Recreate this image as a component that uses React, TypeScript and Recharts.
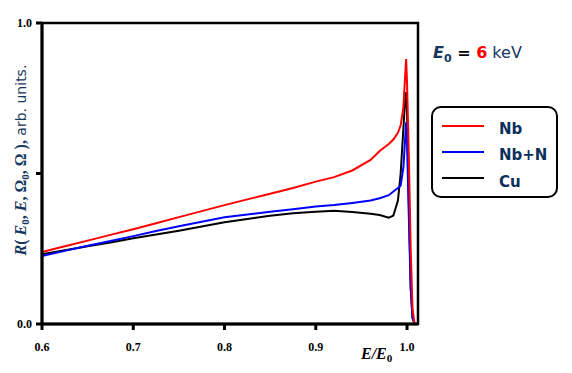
import { LineChart, Line, XAxis, YAxis, ReferenceArea } from "recharts";

const energyRatio = [
  0.6, 0.625, 0.65, 0.675, 0.7, 0.725, 0.75, 0.775, 0.8, 0.825, 0.85, 0.875,
  0.9, 0.92, 0.94, 0.96, 0.97, 0.98, 0.985, 0.99, 0.993, 0.996, 0.998, 0.999,
  1.0, 1.002, 1.004, 1.006, 1.008, 1.01,
];
const nb = [
  0.239, 0.258, 0.277, 0.296, 0.315, 0.335, 0.355, 0.375, 0.395, 0.414, 0.433,
  0.452, 0.473, 0.488, 0.51, 0.545, 0.575, 0.598, 0.613, 0.635, 0.66, 0.72, 0.83,
  0.88, 0.8, 0.55, 0.25, 0.05, 0.005, 0,
];
const nbN = [
  0.226, 0.243, 0.26, 0.276, 0.292, 0.309, 0.325, 0.34, 0.355, 0.364, 0.373,
  0.381, 0.39, 0.395, 0.402, 0.41, 0.418, 0.428, 0.44, 0.452, 0.46, 0.52, 0.62,
  0.67, 0.6, 0.35, 0.12, 0.02, 0.003, 0,
];
const cu = [
  0.232, 0.245, 0.258, 0.271, 0.285, 0.297, 0.31, 0.324, 0.338, 0.349, 0.36,
  0.368, 0.373, 0.376, 0.372, 0.366, 0.362, 0.353, 0.36, 0.41, 0.5, 0.65, 0.75,
  0.77, 0.7, 0.4, 0.12, 0.02, 0.003, 0,
];
const xTicks = [0.6, 0.7, 0.8, 0.9, 1.0];
const yTicks = [0, 0.5, 1];

const data = energyRatio.map((x, i) => ({ x, nb: nb[i], nbN: nbN[i], cu: cu[i] }));

const navy = "#17375e";
const tickStyle = {
  fontFamily: "Liberation Serif",
  fontWeight: 700,
  fontSize: 12,
  fill: "#000",
};

export default function App() {
  return (
    <div style={{ position: "absolute", left: 0, top: 0, width: 572, height: 373, background: "#fff" }}>
      <LineChart
        width={572}
        height={373}
        data={data}
        margin={{ top: 23, right: 154, bottom: 19, left: 12 }}
      >
        <XAxis
          dataKey="x"
          type="number"
          domain={[0.6, 1.012]}
          ticks={xTicks}
          tickFormatter={(v: number) => v.toFixed(1)}
          tick={tickStyle}
          tickSize={6}
          tickMargin={12}
          height={30}
          axisLine={{ stroke: "#000", strokeWidth: 3 }}
          tickLine={{ stroke: "#000", strokeWidth: 3 }}
        />
        <YAxis
          type="number"
          domain={[0, 1]}
          ticks={yTicks}
          tickFormatter={(v: number) => (v === 0.5 ? "" : v.toFixed(1))}
          tick={tickStyle}
          tickSize={6}
          tickMargin={4}
          width={30}
          axisLine={{ stroke: "#000", strokeWidth: 3 }}
          tickLine={{ stroke: "#000", strokeWidth: 3 }}
        />
        <ReferenceArea
          x1={0.6}
          x2={1.012}
          y1={0}
          y2={1}
          fill="none"
          stroke="#000"
          strokeWidth={2.5}
          ifOverflow="visible"
        />
        <Line dataKey="cu" stroke="#000" strokeWidth={2} dot={false} type="linear" isAnimationActive={false} />
        <Line dataKey="nbN" stroke="#0000ff" strokeWidth={2} dot={false} type="linear" isAnimationActive={false} />
        <Line dataKey="nb" stroke="#ff0000" strokeWidth={2} dot={false} type="linear" isAnimationActive={false} />
      </LineChart>

      <svg width={572} height={373} style={{ position: "absolute", left: 0, top: 0, pointerEvents: "none" }}>
        <text
          transform="translate(26,160) rotate(-90)"
          textAnchor="middle"
          fill={navy}
          fontSize={16}
        >
          <tspan fontFamily="Liberation Serif" fontWeight={700} fontStyle="italic">R</tspan>
          <tspan fontFamily="Liberation Serif" fontWeight={700}>( </tspan>
          <tspan fontFamily="Liberation Serif" fontWeight={700} fontStyle="italic">E</tspan>
          <tspan fontFamily="Liberation Serif" fontWeight={700} fontSize={11} dy={3}>0</tspan>
          <tspan fontFamily="Liberation Serif" fontWeight={700} dy={-3}>, </tspan>
          <tspan fontFamily="Liberation Serif" fontWeight={700} fontStyle="italic">E</tspan>
          <tspan fontFamily="Liberation Serif" fontWeight={700}>, Ω</tspan>
          <tspan fontFamily="Liberation Serif" fontWeight={700} fontSize={11} dy={3}>0</tspan>
          <tspan fontFamily="Liberation Serif" fontWeight={700} dy={-3}>, Ω ),</tspan>
          <tspan fontFamily="DejaVu Sans" fontSize={14}>{"  arb. units."}</tspan>
        </text>

        <text x={361} y={359} fontFamily="Liberation Serif" fontWeight={700} fontStyle="italic" fontSize={16} fill="#000">
          E/E<tspan fontSize={11} dy={3} fontStyle="normal">0</tspan>
        </text>

        <text x={433} y={58} fontFamily="DejaVu Sans" fontSize={16}>
          <tspan fontWeight={700} fontStyle="italic" fill={navy}>E</tspan>
          <tspan fontWeight={700} fill={navy} fontSize={11} dy={4}>0</tspan>
          <tspan fontWeight={700} fill="#000" dy={-4}>{" = "}</tspan>
          <tspan fontWeight={700} fill="#ff0000">{" 6"}</tspan>
          <tspan fill={navy}>{" keV"}</tspan>
        </text>

        <rect x={432} y={107} width={125} height={90} rx={9} ry={9} fill="#fff" stroke="#000" strokeWidth={2} />
        <line x1={442} x2={484} y1={126} y2={126} stroke="#ff0000" strokeWidth={2} />
        <line x1={442} x2={484} y1={152} y2={152} stroke="#0000ff" strokeWidth={2} />
        <line x1={442} x2={484} y1={178} y2={178} stroke="#000" strokeWidth={2} />
        <g fontFamily="DejaVu Sans" fontWeight={700} fontSize={15} fill="#0b2f5b">
          <text x={499} y={134}>Nb</text>
          <text x={499} y={160}>Nb+N</text>
          <text x={499} y={187}>Cu</text>
        </g>
      </svg>
    </div>
  );
}
